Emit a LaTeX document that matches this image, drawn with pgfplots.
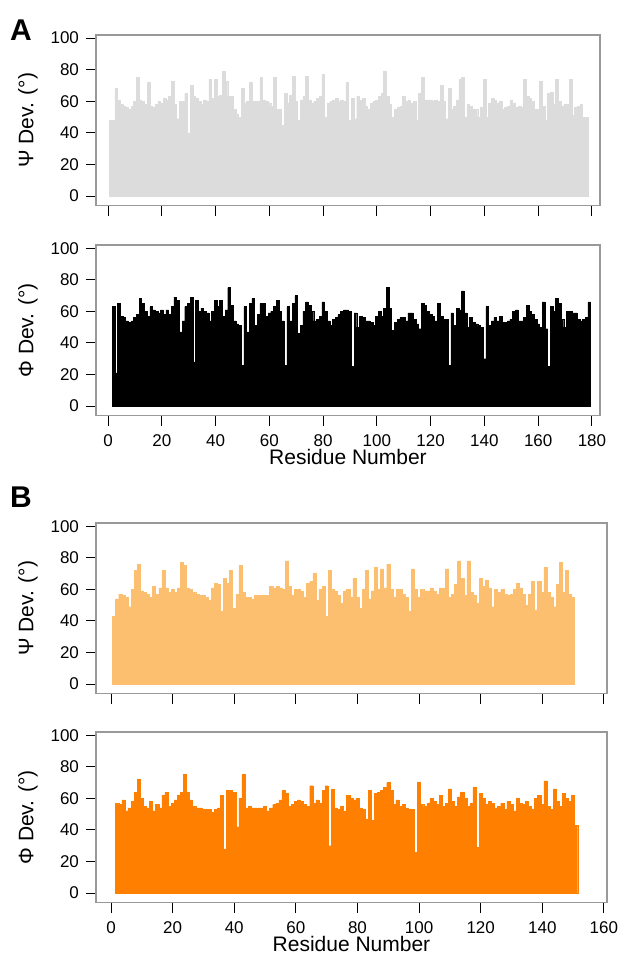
\documentclass[border=0pt]{standalone}
\usepackage{fontspec}
\setmainfont{Liberation Sans}
\usepackage{pgfplots}
\pgfplotsset{compat=1.18}
\definecolor{psigray}{RGB}{220,220,220}
\definecolor{lorange}{RGB}{252,190,111}
\definecolor{dorange}{RGB}{255,128,0}
\pgfplotsset{
  panel/.style={
    scale only axis, height=85.3pt,
    ymin=-6, ymax=102, ytick={0,20,...,100},
    tick pos=left, tick align=outside,
    major tick length=5pt,
    axis line style={gray!80, line width=0.6pt},
    every tick/.style={black, line width=0.5pt},
    ybar, bar width=1, bar shift=0,
    tick label style={font=\fontsize{8.5}{10}\selectfont},
    label style={font=\fontsize{10.5}{12}\selectfont},
    /pgf/number format/assume math mode=true,
    xlabel style={at={(axis description cs:0.5,0)}, anchor=center, inner sep=0pt, yshift=-20.5pt},
    xticklabel style={inner sep=0pt, anchor=center, yshift=-7.3pt},
  },
  panelA/.style={panel, width=252pt, xmin=-4.5, xmax=183, xtick={0,20,...,180},
    ylabel style={at={(axis description cs:-0.135,0.5)}, anchor=center}},
  panelB/.style={panel, width=255.5pt, xmin=-4.87, xmax=161, xtick={0,20,...,160},
    ylabel style={at={(axis description cs:-0.133,0.5)}, anchor=center}},
}
\begin{document}
\begin{tikzpicture}
\path (0,0) rectangle (317pt,481.5pt);
% ---------------- A : Psi ----------------
\begin{axis}[panelA, name=psiA, at={(48pt,464pt)}, anchor=north west,
  xticklabels={}, ylabel={Ψ Dev. (°)}]
\addplot[fill=psigray, draw=psigray, line width=0.2pt] coordinates {
(1,48)(2,48)(3,68)(4,61)(5,58)(6,57)(7,56)(8,55)(9,57)(10,60)(11,75)(12,61)(13,60)(14,58)(15,72)(16,57)(17,56)(18,58)(19,60)(20,59)
(21,62)(22,61)(23,63)(24,73)(25,58)(26,49)(27,60)(28,60)(29,65)(30,40)(31,70)(32,63)(33,62)(34,60)(35,58)(36,61)(37,60)(38,74)(39,62)(40,74)
(41,63)(42,64)(43,79)(44,73)(45,63)(46,63)(47,55)(48,52)(49,50)(50,68)(51,59)(52,60)(53,72)(54,60)(55,60)(56,60)(57,75)(58,61)(59,60)(60,59)
(61,57)(62,75)(63,55)(64,55)(65,45)(66,65)(67,59)(68,64)(69,76)(70,60)(71,48)(72,61)(73,63)(74,76)(75,61)(76,59)(77,60)(78,62)(79,63)(80,77)
(81,50)(82,59)(83,60)(84,61)(85,62)(86,60)(87,61)(88,60)(89,72)(90,48)(91,62)(92,49)(93,63)(94,61)(95,62)(96,57)(97,55)(98,59)(99,60)(100,61)
(101,63)(102,65)(103,79)(104,63)(105,58)(106,50)(107,55)(108,56)(109,57)(110,63)(111,60)(112,61)(113,59)(114,60)(115,48)(116,65)(117,75)(118,61)(119,61)(120,61)
(121,60)(122,61)(123,60)(124,70)(125,60)(126,49)(127,68)(128,55)(129,57)(130,61)(131,74)(132,75)(133,50)(134,58)(135,57)(136,55)(137,55)(138,50)(139,56)(140,74)
(141,50)(142,59)(143,62)(144,61)(145,59)(146,60)(147,55)(148,56)(149,57)(150,61)(151,59)(152,56)(153,57)(154,56)(155,74)(156,63)(157,62)(158,60)(159,55)(160,55)
(161,73)(162,57)(163,48)(164,65)(165,66)(166,58)(167,74)(168,60)(169,57)(170,58)(171,58)(172,74)(173,51)(174,56)(175,57)(176,58)(177,50)(178,50)
};
\end{axis}
% ---------------- A : Phi ----------------
\begin{axis}[panelA, name=phiA, at={(48pt,359pt)}, anchor=north west,
  ylabel={Φ Dev. (°)}, xlabel={Residue Number}]
\addplot[fill=black, draw=black, line width=0.2pt] coordinates {
(2,63)(3,21)(4,65)(5,57)(6,56)(7,54)(8,53)(9,54)(10,56)(11,58)(12,68)(13,65)(14,60)(15,57)(16,63)(17,61)(18,60)(19,59)(20,61)
(21,58)(22,61)(23,58)(24,63)(25,69)(26,67)(27,47)(28,54)(29,63)(30,65)(31,69)(32,28)(33,67)(34,60)(35,62)(36,60)(37,59)(38,54)(39,60)(40,67)
(41,63)(42,67)(43,57)(44,61)(45,75)(46,64)(47,54)(48,52)(49,51)(50,26)(51,63)(52,47)(53,65)(54,68)(55,51)(56,58)(57,65)(58,65)(59,57)(60,59)
(61,60)(62,63)(63,67)(64,60)(65,54)(66,26)(67,63)(68,54)(69,65)(70,70)(71,46)(72,51)(73,60)(74,66)(75,64)(76,60)(77,54)(78,55)(79,57)(80,66)
(81,60)(82,54)(83,51)(84,55)(85,56)(86,58)(87,60)(88,61)(89,61)(90,60)(91,25)(92,59)(93,50)(94,57)(95,56)(96,54)(97,54)(98,53)(99,51)(100,57)
(101,60)(102,57)(103,62)(104,75)(105,62)(106,48)(107,53)(108,55)(109,56)(110,56)(111,54)(112,59)(113,59)(114,55)(115,52)(116,49)(117,65)(118,64)(119,60)(120,58)
(121,57)(122,54)(123,65)(124,57)(125,55)(126,55)(127,26)(128,59)(129,51)(130,62)(131,61)(132,73)(133,59)(134,50)(135,56)(136,53)(137,52)(138,51)(139,50)(140,30)
(141,63)(142,51)(143,54)(144,56)(145,54)(146,57)(147,53)(148,53)(149,54)(150,55)(151,60)(152,61)(153,54)(154,54)(155,56)(156,64)(157,60)(158,58)(159,55)(160,52)
(161,50)(162,66)(163,49)(164,25)(165,63)(166,60)(167,68)(168,65)(169,55)(170,50)(171,60)(172,60)(173,59)(174,59)(175,55)(176,54)(177,55)(178,56)(179,66)
};
\end{axis}
% ---------------- B : Psi ----------------
\begin{axis}[panelB, name=psiB, at={(48pt,220pt)}, anchor=north west,
  xticklabels={}, ylabel={Ψ Dev. (°)}]
\addplot[fill=lorange, draw=lorange, line width=0.2pt] coordinates {
(1,43)(2,54)(3,57)(4,56)(5,55)(6,49)(7,60)(8,72)(9,76)(10,59)(11,58)(12,57)(13,55)(14,62)(15,57)(16,61)(17,72)(18,61)(19,58)(20,60)
(21,58)(22,61)(23,77)(24,75)(25,61)(26,60)(27,58)(28,57)(29,56)(30,56)(31,55)(32,53)(33,61)(34,64)(35,63)(36,46)(37,67)(38,64)(39,72)(40,48)
(41,57)(42,75)(43,58)(44,55)(45,55)(46,54)(47,56)(48,56)(49,56)(50,56)(51,56)(52,62)(53,61)(54,62)(55,61)(56,60)(57,78)(58,62)(59,56)(60,60)
(61,60)(62,59)(63,55)(64,64)(65,65)(66,70)(67,53)(68,60)(69,62)(70,43)(71,72)(72,60)(73,59)(74,56)(75,51)(76,59)(77,60)(78,55)(79,67)(80,55)
(81,48)(82,60)(83,72)(84,54)(85,59)(86,74)(87,60)(88,73)(89,61)(90,76)(91,60)(92,55)(93,60)(94,60)(95,57)(96,55)(97,46)(98,73)(99,60)(100,55)
(101,60)(102,59)(103,59)(104,61)(105,59)(106,57)(107,61)(108,61)(109,73)(110,55)(111,57)(112,63)(113,78)(114,67)(115,56)(116,78)(117,58)(118,56)(119,51)(120,67)
(121,62)(122,66)(123,61)(124,49)(125,60)(126,58)(127,60)(128,57)(129,56)(130,57)(131,60)(132,64)(133,61)(134,57)(135,50)(136,57)(137,65)(138,47)(139,65)(140,58)
(141,74)(142,58)(143,55)(144,49)(145,63)(146,77)(147,58)(148,72)(149,57)(150,55)
};
\end{axis}
% ---------------- B : Phi ----------------
\begin{axis}[panelB, name=phiB, at={(48pt,115.5pt)}, anchor=north west,
  ylabel={Φ Dev. (°)}, xlabel={Residue Number}]
\addplot[fill=dorange, draw=dorange, line width=0.2pt] coordinates {
(2,57)(3,56)(4,59)(5,52)(6,54)(7,58)(8,64)(9,72)(10,60)(11,55)(12,54)(13,58)(14,52)(15,56)(16,54)(17,62)(18,64)(19,55)(20,57)
(21,59)(22,62)(23,64)(24,75)(25,64)(26,59)(27,55)(28,54)(29,54)(30,53)(31,53)(32,53)(33,51)(34,53)(35,54)(36,62)(37,28)(38,65)(39,65)(40,64)
(41,42)(42,60)(43,75)(44,54)(45,55)(46,54)(47,54)(48,54)(49,54)(50,55)(51,52)(52,54)(53,56)(54,57)(55,59)(56,65)(57,63)(58,55)(59,56)(60,58)
(61,59)(62,58)(63,56)(64,55)(65,68)(66,57)(67,59)(68,57)(69,65)(70,68)(71,30)(72,66)(73,54)(74,53)(75,55)(76,52)(77,62)(78,60)(79,59)(80,60)
(81,54)(82,53)(83,47)(84,65)(85,46)(86,63)(87,64)(88,65)(89,67)(90,70)(91,65)(92,56)(93,59)(94,55)(95,56)(96,54)(97,53)(98,53)(99,26)(100,70)
(101,56)(102,55)(103,57)(104,60)(105,58)(106,56)(107,62)(108,55)(109,57)(110,66)(111,58)(112,55)(113,61)(114,64)(115,60)(116,55)(117,57)(118,67)(119,29)(120,63)
(121,60)(122,56)(123,58)(124,57)(125,54)(126,55)(127,57)(128,53)(129,58)(130,56)(131,52)(132,60)(133,57)(134,56)(135,58)(136,55)(137,53)(138,60)(139,62)(140,56)
(141,71)(142,55)(143,53)(144,66)(145,58)(146,55)(147,63)(148,60)(149,58)(150,62)(151,43)
};
\end{axis}
\node[font=\fontsize{15}{18}\selectfont\bfseries] at (10.5pt,466.5pt) {A};
\node[font=\fontsize{15}{18}\selectfont\bfseries] at (10.5pt,233pt) {B};
\end{tikzpicture}
\end{document}
